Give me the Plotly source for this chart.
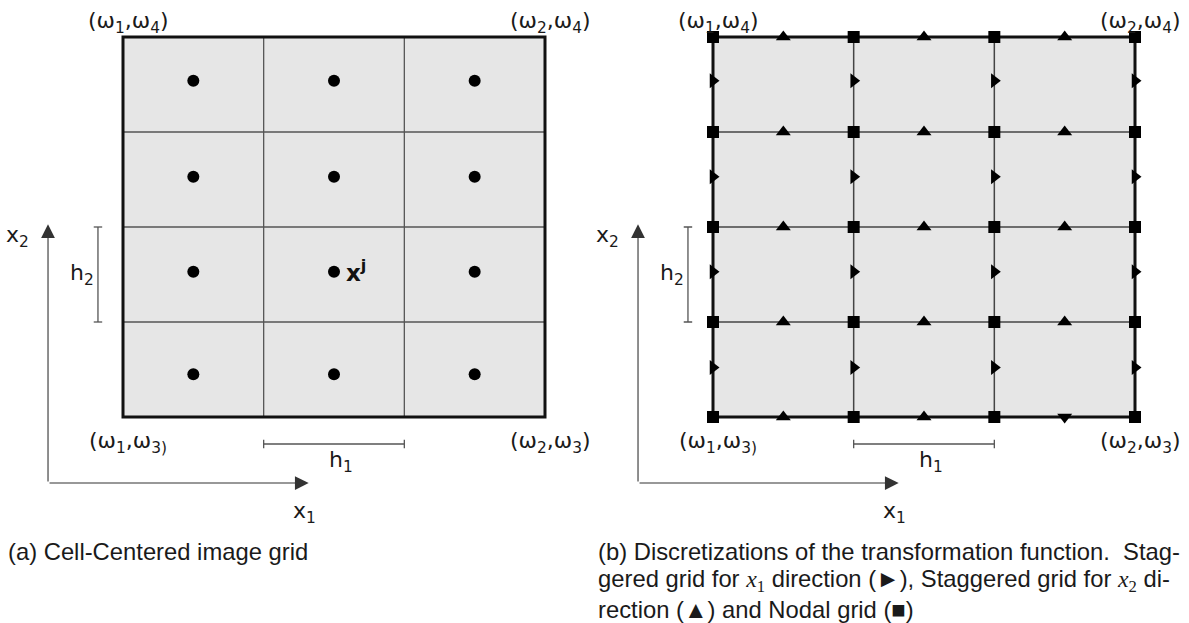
import plotly.graph_objects as go

# ---------------------------------------------------------------------------
# Grid description (cell units): 3 columns x 4 rows on the domain Omega
# ---------------------------------------------------------------------------
col_edges = [0, 1, 2, 3]
row_edges = [0, 1, 2, 3, 4]

# cell-centred sample points
centre_cols = [0.5, 1.5, 2.5]
centre_rows = [0.45, 1.53, 2.53, 3.54]

# staggered grid for x1 direction: on vertical edges, mid-height of cells
x1_stag_cols = [0, 1, 2, 3]
x1_stag_rows = [0.52, 1.53, 2.53, 3.54]

# staggered grid for x2 direction: on horizontal edges, mid-width of cells
x2_stag_cols = [0.5, 1.5, 2.5]
x2_stag_rows = [0, 1, 2, 3, 4]
x2_stag_down = [(2.5, 0)]          # one marker drawn pointing downwards

# corner labels of the domain
corner_text = {
    (0, 4): "(ω<sub>1</sub>,ω<sub>4</sub>)",
    (3, 4): "(ω<sub>2</sub>,ω<sub>4</sub>)",
    (0, 0): "(ω<sub>1</sub>,ω<sub>3)</sub>",
    (3, 0): "(ω<sub>2</sub>,ω<sub>3</sub>)",
}

captions_a = ["(a) Cell-Centered image grid"]
captions_b = [
    "(b) Discretizations of the transformation function.  Stag-",
    "gered grid for <span style=\"font-family:'Liberation Serif'\"><i>x</i><sub>1</sub></span>"
    " direction (►), Staggered grid for "
    "<span style=\"font-family:'Liberation Serif'\"><i>x</i><sub>2</sub></span> di-",
    "rection (▲) and Nodal grid (■)",
]

# ---------------------------------------------------------------------------
# Page layout (pixels)
# ---------------------------------------------------------------------------
W, H = 1189, 623
CELL_W = 422 / 3
CELL_H = 95.0
GRID_LEFT = {"a": 123, "b": 713}
GRID_BOTTOM = 417
HALF = W / 2

LABEL_FONT = dict(family="DejaVu Sans", size=22, color="#1a1a1a")
CAPTION_FONT = dict(family="Liberation Sans", size=23.8, color="#1a1a1a")


def x_range(left_px, dom0, dom1):
    return [(dom0 - left_px) / CELL_W, (dom1 - left_px) / CELL_W]


y_range = [(GRID_BOTTOM - H) / CELL_H, GRID_BOTTOM / CELL_H]

fig = go.Figure()

shapes = []
annotations = []


def add_grid(xref, yref, inner_color, inner_width):
    nx, ny = col_edges[-1], row_edges[-1]
    shapes.append(dict(type="rect", xref=xref, yref=yref, x0=0, x1=nx, y0=0, y1=ny,
                       fillcolor="#e6e6e6", line=dict(width=0), layer="below"))
    for c in col_edges[1:-1]:
        shapes.append(dict(type="line", xref=xref, yref=yref, x0=c, x1=c, y0=0, y1=ny,
                           line=dict(color=inner_color, width=inner_width), layer="below"))
    for r in row_edges[1:-1]:
        shapes.append(dict(type="line", xref=xref, yref=yref, x0=0, x1=nx, y0=r, y1=r,
                           line=dict(color=inner_color, width=inner_width), layer="below"))
    shapes.append(dict(type="rect", xref=xref, yref=yref, x0=0, x1=nx, y0=0, y1=ny,
                       fillcolor="rgba(0,0,0,0)", line=dict(color="#111", width=3),
                       layer="below"))


def add_decorations(xref, yref):
    # coordinate arrows
    ox, oy = -0.533, -0.695
    annotations.append(dict(xref=xref, yref=yref, axref=xref, ayref=yref,
                            x=1.32, y=oy, ax=ox, ay=oy, text="", showarrow=True,
                            arrowhead=2, arrowsize=2.5, arrowwidth=1.1, arrowcolor="#333"))
    annotations.append(dict(xref=xref, yref=yref, axref=xref, ayref=yref,
                            x=ox, y=2.03, ax=ox, ay=oy, text="", showarrow=True,
                            arrowhead=2, arrowsize=2.5, arrowwidth=1.1, arrowcolor="#333"))
    annotations.append(dict(xref=xref, yref=yref, x=1.29, y=-1.01, text="x<sub>1</sub>",
                            showarrow=False, font=LABEL_FONT))
    annotations.append(dict(xref=xref, yref=yref, x=-0.75, y=1.9, text="x<sub>2</sub>",
                            showarrow=False, font=LABEL_FONT))

    # h2 dimension bracket
    bx, cap = -0.178, 0.03
    line = dict(color="#555", width=1.3)
    shapes.append(dict(type="line", xref=xref, yref=yref, x0=bx, x1=bx, y0=1, y1=2, line=line))
    for r in (1, 2):
        shapes.append(dict(type="line", xref=xref, yref=yref, x0=bx - cap, x1=bx + cap,
                           y0=r, y1=r, line=line))
    annotations.append(dict(xref=xref, yref=yref, x=-0.29, y=1.5, text="h<sub>2</sub>",
                            showarrow=False, font=LABEL_FONT))

    # h1 dimension bracket
    by, vcap = -0.284, 0.045
    shapes.append(dict(type="line", xref=xref, yref=yref, x0=1, x1=2, y0=by, y1=by, line=line))
    for c in (1, 2):
        shapes.append(dict(type="line", xref=xref, yref=yref, x0=c, x1=c,
                           y0=by - vcap, y1=by + vcap, line=line))
    annotations.append(dict(xref=xref, yref=yref, x=1.55, y=-0.47, text="h<sub>1</sub>",
                            showarrow=False, font=LABEL_FONT))

    # corner labels
    for (cx, cy), txt in corner_text.items():
        annotations.append(dict(xref=xref, yref=yref, x=cx, y=cy, text=txt,
                                showarrow=False, font=LABEL_FONT,
                                xshift=5, yshift=15 if cy else -25))


# ---------------- panel (a): cell-centred grid ----------------
add_grid("x", "y", "#555", 1.3)
add_decorations("x", "y")
cc_x = [c for r in centre_rows for c in centre_cols]
cc_y = [r for r in centre_rows for c in centre_cols]
fig.add_trace(go.Scatter(x=cc_x, y=cc_y, mode="markers", xaxis="x", yaxis="y",
                         marker=dict(symbol="circle", size=12, color="black"),
                         showlegend=False, hoverinfo="skip", cliponaxis=False))
annotations.append(dict(xref="x", yref="y", x=centre_cols[1], y=centre_rows[1],
                        text="<b>x<sup>j</sup></b>", showarrow=False,
                        xanchor="left", xshift=10, yshift=1,
                        font=dict(family="DejaVu Sans", size=23, color="#111")))

# ---------------- panel (b): staggered / nodal grids ----------------
add_grid("x2", "y2", "#444", 1.5)
add_decorations("x2", "y2")

s1_x = [c for r in x1_stag_rows for c in x1_stag_cols]
s1_y = [r for r in x1_stag_rows for c in x1_stag_cols]
fig.add_trace(go.Scatter(x=s1_x, y=s1_y, mode="markers", xaxis="x2", yaxis="y2",
                         marker=dict(symbol="triangle-right", size=13, color="black"),
                         showlegend=False, hoverinfo="skip", cliponaxis=False))

s2_x = [c for r in x2_stag_rows for c in x2_stag_cols]
s2_y = [r for r in x2_stag_rows for c in x2_stag_cols]
s2_sym = ["triangle-down" if (c, r) in x2_stag_down else "triangle-up"
          for c, r in zip(s2_x, s2_y)]
fig.add_trace(go.Scatter(x=s2_x, y=s2_y, mode="markers", xaxis="x2", yaxis="y2",
                         marker=dict(symbol=s2_sym, size=13, color="black"),
                         showlegend=False, hoverinfo="skip", cliponaxis=False))

nd_x = [c for r in row_edges for c in col_edges]
nd_y = [r for r in row_edges for c in col_edges]
fig.add_trace(go.Scatter(x=nd_x, y=nd_y, mode="markers", xaxis="x2", yaxis="y2",
                         marker=dict(symbol="square", size=12, color="black"),
                         showlegend=False, hoverinfo="skip", cliponaxis=False))

# ---------------- captions ----------------
for i, line in enumerate(captions_a):
    annotations.append(dict(xref="paper", yref="paper", x=6 / W, y=1 - (551 + 29 * i) / H,
                            text=line, showarrow=False, xanchor="left", yanchor="middle",
                            font=CAPTION_FONT))
for i, line in enumerate(captions_b):
    annotations.append(dict(xref="paper", yref="paper", x=596 / W, y=1 - (551 + 29 * i) / H,
                            text=line, showarrow=False, xanchor="left", yanchor="middle",
                            font=CAPTION_FONT))

hidden = dict(visible=False, showgrid=False, zeroline=False, fixedrange=True)
fig.update_layout(
    width=W, height=H,
    margin=dict(l=0, r=0, t=0, b=0),
    paper_bgcolor="white", plot_bgcolor="white",
    xaxis=dict(hidden, domain=[0, 0.5], range=x_range(GRID_LEFT["a"], 0, HALF)),
    yaxis=dict(hidden, domain=[0, 1], range=y_range),
    xaxis2=dict(hidden, domain=[0.5, 1], range=x_range(GRID_LEFT["b"], HALF, W), anchor="y2"),
    yaxis2=dict(hidden, domain=[0, 1], range=y_range, anchor="x2"),
    shapes=shapes,
    annotations=annotations,
    showlegend=False,
)

fig.write_html("out.html")
